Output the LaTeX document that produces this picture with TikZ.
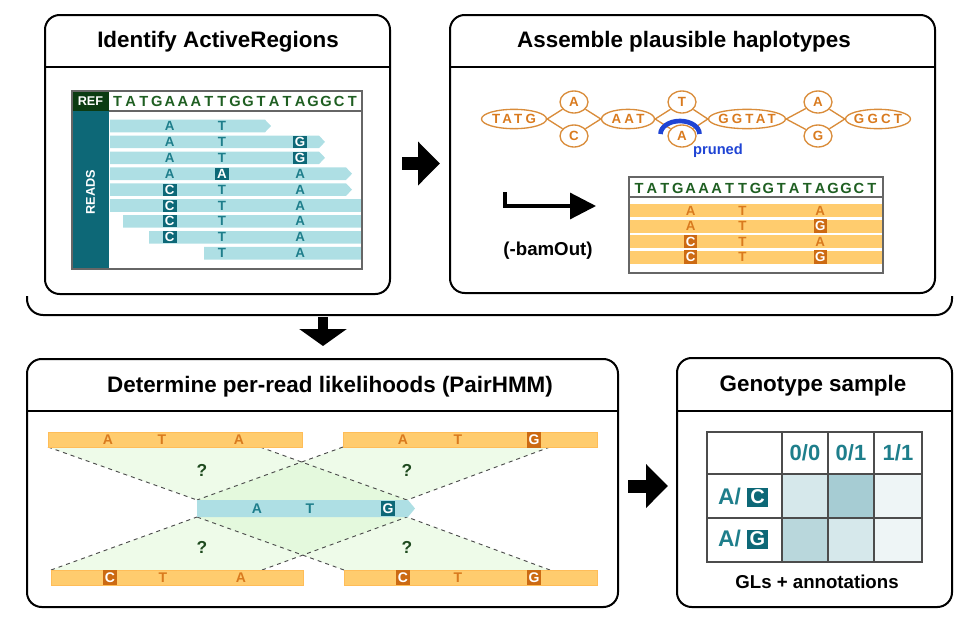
\documentclass[tikz,border=0pt]{standalone}
\usepackage{fontspec}
\setmainfont{Liberation Sans}
\newfontfamily\spacedsans[LetterSpace=24]{Liberation Sans}
\usetikzlibrary{shapes.geometric,arrows.meta}

\definecolor{refdark}{HTML}{0B3B12}
\definecolor{refgreen}{HTML}{1F5F22}
\definecolor{readteal}{HTML}{0D6877}
\definecolor{readblue}{HTML}{AEDFE4}
\definecolor{tealtext}{HTML}{1E7E8B}
\definecolor{hapfill}{HTML}{FFCC6E}
\definecolor{hapdark}{HTML}{CC6A12}
\definecolor{haptext}{HTML}{D97A1E}
\definecolor{hapline}{HTML}{D98C3A}
\definecolor{prunedblue}{HTML}{1F44D4}
\definecolor{likelyfill}{HTML}{D9F6CF}
\definecolor{qgreen}{HTML}{1E4A1E}
\definecolor{gllow}{HTML}{EEF5F6}
\definecolor{glmid}{HTML}{D6E8EB}
\definecolor{glmidd}{HTML}{B9D7DC}
\definecolor{glhigh}{HTML}{A6CCD3}

\tikzset{
  panel/.style={draw, line width=1.5pt, rounded corners=11pt},
  divider/.style={line width=1.5pt},
  title/.style={font=\bfseries\fontsize{16.8}{20}\selectfont, inner sep=0pt},
  blockarrow/.style={line width=9.75pt, -{Triangle[length=16.5pt,width=32pt]}},
  downarrow/.style={line width=7.5pt, -{Triangle[length=12.75pt,width=35pt]}},
  refbase/.style={text=refgreen, font=\bfseries\fontsize{11}{12}\selectfont, inner sep=0pt},
  base/.style={text=tealtext, font=\bfseries\fontsize{10}{11}\selectfont, inner sep=0pt},
  alt/.style={base, fill=readteal, text=white, minimum width=10.5pt, minimum height=9pt},
  hapbase/.style={text=haptext, font=\bfseries\fontsize{10}{11}\selectfont, inner sep=0pt},
  hapalt/.style={hapbase, fill=hapdark, text=white, minimum width=9.5pt, minimum height=10pt},
  pairbase/.style={hapbase, font=\bfseries\fontsize{10.5}{11}\selectfont},
  pairalt/.style={pairbase, fill=hapdark, text=white, minimum width=10.5pt, minimum height=11.5pt},
  readbase/.style={base, font=\bfseries\fontsize{10.5}{11}\selectfont},
  readalt/.style={readbase, fill=readteal, text=white, minimum width=10pt, minimum height=11pt},
  allele/.style={ellipse, draw=hapline, line width=1pt, text=haptext,
    font=\spacedsans\bfseries\fontsize{10}{11}\selectfont, inner xsep=-3pt, inner ysep=0pt, minimum height=14.5pt},
  snp/.style={allele, inner xsep=0pt, minimum width=21pt, minimum height=16.5pt},
  hapedge/.style={draw=hapline, line width=1pt},
  pruned/.style={prunedblue, line width=3.5pt},
  guess/.style={dashed, draw=black!70, line width=0.7pt},
  likely/.style={fill=likelyfill, fill opacity=0.45},
  gridline/.style={draw=black!70, line width=0.8pt},
  gt/.style={text=tealtext, font=\bfseries\fontsize{16.5}{18}\selectfont, inner sep=0pt},
  gtbox/.style={fill=readteal, text=white, font=\bfseries\fontsize{15}{16}\selectfont, inner sep=0pt, minimum width=15.75pt, minimum height=14.25pt}
}

\begin{document}
\begin{tikzpicture}[x=0.75pt, y=-0.75pt]
\useasboundingbox (0,0) rectangle (974,618);

% panels
\draw[panel] (45,15) rectangle (390,294);
\draw[divider] (45,67) -- (390,67);
\node[title] (t-active) at (218,42) {Identify ActiveRegions};

\draw[panel] (450,15) rectangle (935,293);
\draw[divider] (450,67) -- (935,67);
\node[title] (t-assemble) at (684,42) {Assemble plausible haplotypes};

\draw[line width=1.5pt, rounded corners=12pt] (27,296) -- (27,315) -- (952,315) -- (952,296);

\draw[panel] (27,359) rectangle (618,607);
\draw[divider] (27,411) -- (618,411);
\node[title] (t-pairhmm) at (330,387) {Determine per-read likelihoods (PairHMM)};

\draw[panel] (677,358) rectangle (952,607);
\draw[divider] (677,411) -- (952,411);
\node[title] (t-genotype) at (813,386) {Genotype sample};

\coordinate (a1-from) at (402,163.5);
\coordinate (a1-to) at (440,163.5);
\draw[blockarrow] (a1-from) -- (a1-to);
\coordinate (a2-from) at (323,317);
\coordinate (a2-to) at (323,346);
\draw[downarrow] (a2-from) -- (a2-to);
\coordinate (a3-from) at (628,486);
\coordinate (a3-to) at (668,486);
\draw[blockarrow] (a3-from) -- (a3-to);

% active region reads
\foreach \y/\xa/\xb/\tip/\sa/\la/\sb/\lb/\sc/\lc [count=\k] in {
  126.0/110/265/6/base/A/base/T/base/{},
  141.9/110/319/6/base/A/base/T/alt/G,
  157.8/110/319/6/base/A/base/T/alt/G,
  173.7/110/346/6/base/A/alt/A/base/A,
  189.6/110/346/6/alt/C/base/T/base/A,
  205.5/110/362/0/alt/C/base/T/base/A,
  221.4/123/362/0/alt/C/base/T/base/A,
  237.3/149/362/0/alt/C/base/T/base/A,
  253.2/204/362/0/base/{}/base/T/base/A}{
  \fill[readblue] (\xa,\y-6.3) -- (\xb,\y-6.3) -- (\xb+\tip,\y) -- (\xb,\y+6.3) -- (\xa,\y+6.3) -- cycle;
  \node[\sa] (rd\k-a) at (169.8,\y) {\la};
  \node[\sb] (rd\k-b) at (221.9,\y) {\lb};
  \node[\sc] (rd\k-c) at (300.1,\y) {\lc};
}
\fill[refdark] (72,91) rectangle (109,111);
\fill[readteal] (72,111) rectangle (109,269);
\node[text=white, font=\bfseries\fontsize{9.5}{10}\selectfont] (ref-tag) at (90.5,101) {REF};
\node[text=white, font=\bfseries\fontsize{9.5}{10}\selectfont, rotate=90] (reads-tag) at (90.5,192) {READS};
\foreach \b [count=\i from 0] in {T,A,T,G,A,A,A,T,T,G,G,T,A,T,A,G,G,C,T}
  \node[refbase] (ref-\i) at (117.7+13.03*\i,101) {\b};
\draw[black!60, line width=0.8pt] (109,111) -- (362,111);
\draw[black!60, line width=0.8pt] (72,91) rectangle (362,269);

% assembly graph
\node[allele, minimum width=48.75pt] (tatg) at (514,119) {TATG};
\node[snp] (a1) at (574,102) {A};
\node[snp] (c1) at (574,136) {C};
\node[allele, minimum width=39.75pt] (aat) at (628,119) {AAT};
\node[snp] (t2) at (682,102) {T};
\node[snp] (a2) at (682,136) {A};
\node[allele, minimum width=57.75pt] (ggtat) at (747,119) {GGTAT};
\node[snp] (a3) at (818,102) {A};
\node[snp] (g3) at (818,136) {G};
\node[allele, minimum width=48.75pt] (ggct) at (878,119) {GGCT};
\draw[hapedge] (tatg.east) -- (a1) (tatg.east) -- (c1) (a1) -- (aat.west) (c1) -- (aat.west);
\draw[hapedge] (aat.east) -- (t2) (aat.east) -- (a2) (t2) -- (ggtat.west) (a2) -- (ggtat.west);
\draw[hapedge] (ggtat.east) -- (a3) (ggtat.east) -- (g3) (a3) -- (ggct.west) (g3) -- (ggct.west);
\draw[pruned] (660.5,134) arc[start angle=180, end angle=360, x radius=19.5, y radius=13];
\node[text=prunedblue, font=\bfseries\fontsize{11}{12}\selectfont] (pruned-tag) at (718,151) {pruned};

\coordinate (bam-from) at (505,192);
\coordinate (bam-to) at (596,206);
\draw[line width=2.4pt, -{Triangle[length=19.5pt,width=19.5pt]}] (bam-from) |- (bam-to);
\node[font=\bfseries\fontsize{14}{16}\selectfont] (bamout) at (548,251) {(-bamOut)};

% haplotypes
\foreach \y/\sa/\la/\sb/\lb/\sc/\lc [count=\k] in {
  210.5/hapbase/A/hapbase/T/hapbase/A,
  226.0/hapbase/A/hapbase/T/hapalt/G,
  241.5/hapalt/C/hapbase/T/hapbase/A,
  257.0/hapalt/C/hapbase/T/hapalt/G}{
  \fill[hapfill] (629,\y-6.5) rectangle (883,\y+6.5);
  \node[\sa] (hp\k-a) at (690.8,\y) {\la};
  \node[\sb] (hp\k-b) at (742.5,\y) {\lb};
  \node[\sc] (hp\k-c) at (820.2,\y) {\lc};
}
\foreach \b [count=\i from 0] in {T,A,T,G,A,A,A,T,T,G,G,T,A,T,A,G,G,C,T}
  \node[refbase] (hapref-\i) at (639+12.94*\i,188) {\b};
\draw[black!60, line width=0.8pt] (629,197) -- (883,197);
\draw[black!60, line width=0.8pt] (629,177) rectangle (883,273);

% pair-hmm
\coordinate (rnw) at (197,500); \coordinate (rne) at (407,500);
\coordinate (rsw) at (197,517); \coordinate (rse) at (407,517);
\coordinate (tl1) at (48,447);  \coordinate (tl2) at (260,447);
\coordinate (tr1) at (343,447); \coordinate (tr2) at (550,447);
\coordinate (bl1) at (51,570);  \coordinate (bl2) at (262,570);
\coordinate (br1) at (344,570); \coordinate (br2) at (550,570);
\fill[likely] (tl1) -- (tl2) -- (rne) -- (rnw) -- cycle;
\fill[likely] (tr1) -- (tr2) -- (rne) -- (rnw) -- cycle;
\fill[likely] (bl1) -- (bl2) -- (rse) -- (rsw) -- cycle;
\fill[likely] (br1) -- (br2) -- (rse) -- (rsw) -- cycle;
\draw[guess] (tl1) -- (rnw) (tl2) -- (rne) (tr1) -- (rnw) (tr2) -- (rne);
\draw[guess] (bl1) -- (rsw) (bl2) -- (rse) (br1) -- (rsw) (br2) -- (rse);
\filldraw[fill=hapfill, draw=hapfill!80!orange, line width=0.5pt] (48,432) rectangle (302,447);
\filldraw[fill=hapfill, draw=hapfill!80!orange, line width=0.5pt] (343,432) rectangle (597,447);
\filldraw[fill=hapfill, draw=hapfill!80!orange, line width=0.5pt] (51,570) rectangle (303,585);
\filldraw[fill=hapfill, draw=hapfill!80!orange, line width=0.5pt] (344,570) rectangle (597,585);
\node[pairbase] (p1-a) at (108,440) {A};
\node[pairbase] (p1-b) at (162,440) {T};
\node[pairbase] (p1-c) at (239,440) {A};
\node[pairbase] (p2-a) at (403,440) {A};
\node[pairbase] (p2-b) at (458,440) {T};
\node[pairalt] (p2-c) at (534,440) {G};
\node[pairalt] (p3-a) at (110,577.5) {C};
\node[pairbase] (p3-b) at (163,577.5) {T};
\node[pairbase] (p3-c) at (241,577.5) {A};
\node[pairalt] (p4-a) at (403,577.5) {C};
\node[pairbase] (p4-b) at (458,577.5) {T};
\node[pairalt] (p4-c) at (534,577.5) {G};
\fill[readblue] (rnw) -- (408,500) -- (415,508.5) -- (408,517) -- (rsw) -- cycle;
\node[readbase] (rd-a) at (257,508.5) {A};
\node[readbase] (rd-b) at (310,508.5) {T};
\node[readalt] (rd-c) at (388,508.5) {G};
\foreach \x/\y [count=\k] in {202/470, 407/470, 202/547, 407/547}
  \node[text=qgreen, font=\bfseries\fontsize{13}{14}\selectfont] (q\k) at (\x,\y) {?};

% genotype likelihoods
\fill[glmid] (782,474) rectangle (828,518);
\fill[glhigh] (828,474) rectangle (874,518);
\fill[gllow] (874,474) rectangle (922,518);
\fill[glmidd] (782,518) rectangle (828,562);
\fill[glmid] (828,518) rectangle (874,562);
\fill[gllow] (874,518) rectangle (922,562);
\draw[gridline] (707,432) rectangle (922,562);
\foreach \x in {782,828,874} \draw[gridline] (\x,432) -- (\x,562);
\foreach \y in {474,518} \draw[gridline] (707,\y) -- (922,\y);
\node[gt] (gt-00) at (805,453) {0/0};
\node[gt] (gt-01) at (851,453) {0/1};
\node[gt] (gt-11) at (898,453) {1/1};
\node[gt, font=\bfseries\fontsize{17}{18}\selectfont] (row1) at (729.5,497) {A/};
\node[gtbox] (row1-alt) at (757.5,497) {C};
\node[gt, font=\bfseries\fontsize{17}{18}\selectfont] (row2) at (729.5,539) {A/};
\node[gtbox] (row2-alt) at (757.5,539) {G};
\node[font=\bfseries\fontsize{14}{16}\selectfont] (gls) at (817,582) {GLs + annotations};
\end{tikzpicture}
\end{document}
